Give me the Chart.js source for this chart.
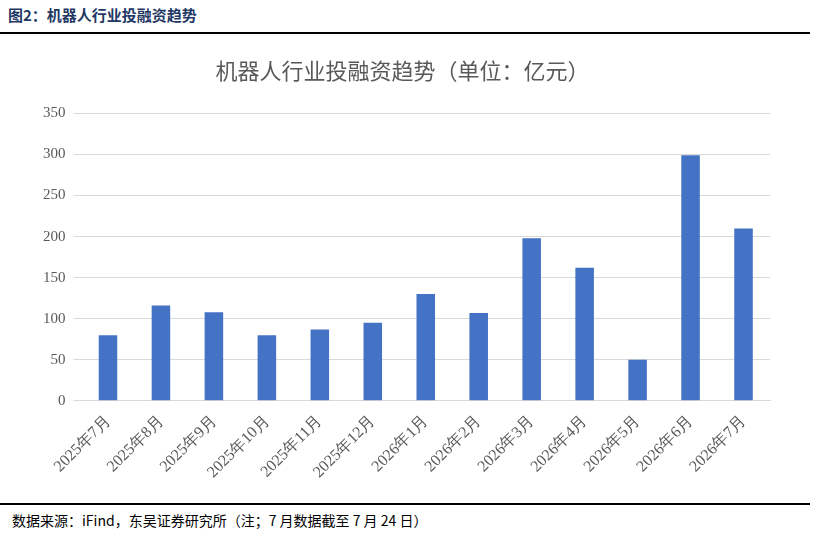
<!DOCTYPE html>
<html><head><meta charset="utf-8">
<script src="https://cdn.jsdelivr.net/npm/chart.js@4"></script>
<style>
body{margin:0;width:815px;height:538px;background:#fff;font-family:"Noto Sans CJK SC";position:relative;overflow:hidden}
#hd{position:absolute;left:8px;top:4px;font-size:15px;font-weight:bold;color:#1f3864}
#l1{position:absolute;left:0;top:32px;width:810px;border-top:2px solid #000}
#l2{position:absolute;left:0;top:503px;width:810px;border-top:2px solid #000}
#ft{position:absolute;left:12px;top:510px;font-size:14px;color:#000;font-family:"Noto Sans CJK SC"}
#wrap{position:absolute;left:0;top:40px;width:800px;height:445px}
</style></head><body>
<div id="hd">图2：机器人行业投融资趋势</div>
<div id="l1"></div>
<div id="wrap"><canvas id="c"></canvas></div>
<div id="l2"></div>
<div id="ft">数据来源：iFind，东吴证券研究所（注；7 月数据截至 7 月 24 日）</div>
<script>
const categories=["2025年7月","2025年8月","2025年9月","2025年10月","2025年11月","2025年12月","2026年1月","2026年2月","2026年3月","2026年4月","2026年5月","2026年6月","2026年7月"];
const values=[80,116,108,80,87,95,130,107,198,162,50,299,210];
new Chart(document.getElementById('c'),{type:'bar',
data:{labels:categories,datasets:[{data:values,backgroundColor:'#4472c4',barPercentage:0.35,categoryPercentage:1}]},
options:{responsive:true,maintainAspectRatio:false,animation:false,
layout:{padding:{left:35,right:30,top:5,bottom:0}},
plugins:{legend:{display:false},tooltip:{enabled:false},
title:{display:true,text:'机器人行业投融资趋势（单位：亿元）',color:'#595959',font:{size:22,weight:'normal',family:'Noto Sans CJK SC'},padding:{top:12,bottom:30}}},
scales:{x:{grid:{display:false},border:{color:'#d9d9d9'},ticks:{color:'#595959',maxRotation:45,minRotation:45,font:{size:16,family:'Liberation Serif'}}},
y:{min:0,max:350,ticks:{stepSize:50,color:'#595959',padding:8,font:{size:15,family:'Liberation Serif'}},grid:{color:'#d9d9d9'},border:{display:false}}}}});
</script></body></html>
